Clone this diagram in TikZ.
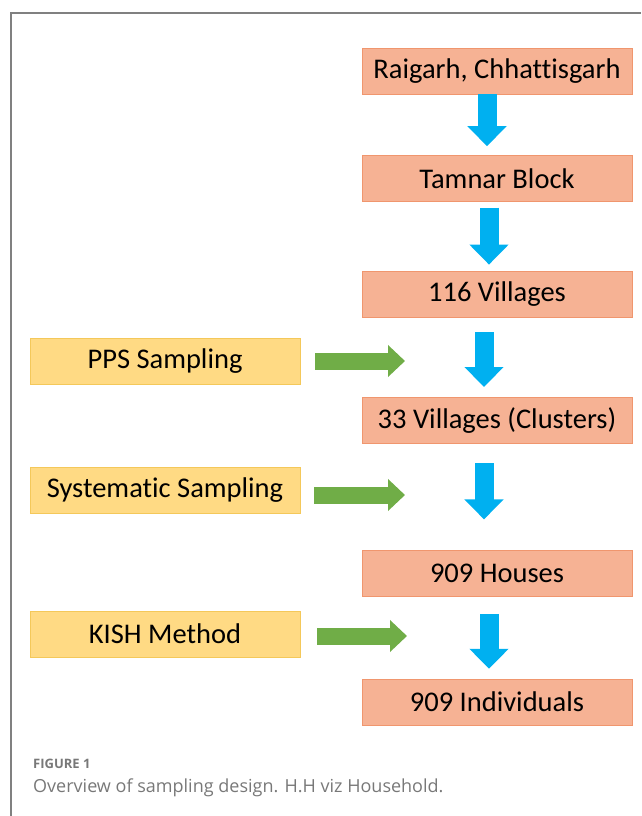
\documentclass[tikz,border=0pt]{standalone}
\usepackage{fontspec}
\setmainfont[Ligatures=NoCommon]{Carlito}
\newfontfamily\capfont{Open Sans}
\usetikzlibrary{arrows.meta,positioning}
\definecolor{sampleOrange}{RGB}{246,178,148}
\definecolor{sampleOrangeLine}{RGB}{240,150,110}
\definecolor{sampleYellow}{RGB}{255,218,132}
\definecolor{sampleYellowLine}{RGB}{244,200,90}
\definecolor{sampleBlue}{RGB}{0,176,240}
\definecolor{sampleGreen}{RGB}{112,173,71}
\definecolor{frameGray}{RGB}{128,128,128}
\definecolor{captionGray}{RGB}{120,120,120}

\begin{document}
\begin{tikzpicture}[
  x=1pt,y=-1pt,
  stage/.style={
    draw=sampleOrangeLine,
    fill=sampleOrange,
    minimum width=270pt,
    minimum height=46pt,
    inner sep=0pt,
    font=\fontsize{28.5}{32}\selectfont
  },
  method/.style={
    stage,
    draw=sampleYellowLine,
    fill=sampleYellow
  },
  downarrow/.style={sampleBlue,line width=19pt,-{Triangle[width=38pt,length=20pt]}},
  sidearrow/.style={sampleGreen,line width=17pt,-{Triangle[width=31pt,length=17pt]}}
]
  \useasboundingbox (0,0) rectangle (641,816);
  \draw[frameGray,line width=2pt] (11,816) -- (11,13) -- (641,13);

  \node[stage] (raigarh) at (497,71) {Raigarh, Chhattisgarh};
  \node[stage,below=61pt of raigarh] (tamnar) {Tamnar Block};
  \node[stage,below=69pt of tamnar] (villages) {116 Villages};
  \node[stage,below=80pt of villages] (clusters) {33 Villages (Clusters)};
  \node[stage,below=107pt of clusters] (houses) {909 Houses};
  \node[stage,below=82pt of houses] (persons) {909 Individuals};

  \node[method] (pps) at (165,361) {PPS Sampling};
  \node[method] (systematic) at (165,490) {Systematic Sampling};
  \node[method] (kish) at (165,634) {KISH Method};

  \draw[downarrow,shorten >=9pt] ([xshift=-10pt]raigarh.south) -- ([xshift=-10pt]tamnar.north);
  \draw[downarrow,shorten <=6pt,shorten >=6pt] ([xshift=-8pt]tamnar.south) -- ([xshift=-8pt]villages.north);
  \draw[downarrow,shorten <=15pt,shorten >=10pt] ([xshift=-13pt]villages.south) -- ([xshift=-13pt]clusters.north);
  \draw[downarrow,shorten <=20pt,shorten >=31pt] ([xshift=-13pt]clusters.south) -- ([xshift=-13pt]houses.north);
  \draw[downarrow,shorten <=17pt,shorten >=10pt] ([xshift=-8pt]houses.south) -- ([xshift=-8pt]persons.north);

  % green arrows end short of the blue ones
  \coordinate (ppsend) at (405,361);
  \coordinate (systematicend) at (405,495);
  \coordinate (kishend) at (407,636);
  \draw[sidearrow,shorten <=15pt] (pps.east) -- (ppsend);
  \draw[sidearrow,shorten <=14pt] ([yshift=-5pt]systematic.east) -- (systematicend);
  \draw[sidearrow,shorten <=17pt] ([yshift=-2pt]kish.east) -- (kishend);

  \node[anchor=west,inner sep=0pt,text=captionGray,font=\capfont\bfseries\fontsize{13}{15}\selectfont] (figlabel) at (33,764) {FIGURE 1};
  \node[anchor=west,inner sep=0pt,text=captionGray,font=\capfont\fontsize{18}{21}\selectfont] (figcaption) at (33,788) {Overview of sampling design. H.H viz Household.};
\end{tikzpicture}
\end{document}
